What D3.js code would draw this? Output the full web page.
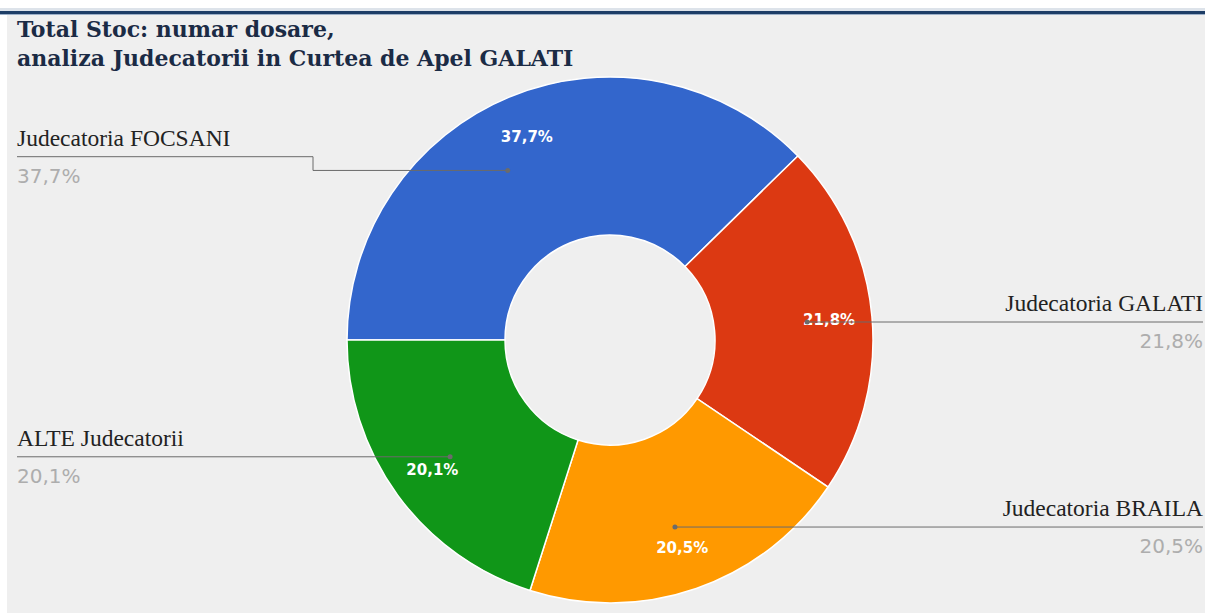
<!DOCTYPE html>
<html>
<head>
<meta charset="utf-8">
<script src="https://cdn.jsdelivr.net/npm/d3@7"></script>
<style>
  body { margin: 0; background: #fff; }
  svg { display: block; }
</style>
</head>
<body>
<div id="theChart"></div>
<script>
const categories = ["Judecatoria FOCSANI", "Judecatoria GALATI", "Judecatoria BRAILA", "ALTE Judecatorii"];
const shares = [37.7, 21.8, 20.5, 20.1];
const colors = ["#3366cc", "#dc3912", "#ff9900", "#109618"];
const titleLines = ["Total Stoc: numar dosare,", "analiza Judecatorii in Curtea de Apel GALATI"];

const width = 1205, height = 614,
    cx = 610, cy = 340,
    outerR = 263, innerR = 105;

const svg = d3.select("#theChart").append("svg").attr("width", width).attr("height", height);

// frame
svg.append("rect").attr("x", 7).attr("y", 15).attr("width", width - 7).attr("height", height - 16).attr("fill", "#efefef");
svg.append("rect").attr("x", 0).attr("y", 8).attr("width", width).attr("height", 3).attr("fill", "#dde3ea");
svg.append("rect").attr("x", 0).attr("y", 11).attr("width", width).attr("height", 3).attr("fill", "#1d3d66");
svg.append("rect").attr("x", 0).attr("y", 14).attr("width", width).attr("height", 1).attr("fill", "#9db0c8");

// title
svg.append("g").selectAll("text").data(titleLines).enter().append("text")
    .attr("x", 17).attr("y", (d, i) => 37 + i * 29)
    .attr("font-family", "'DejaVu Serif', serif").attr("font-weight", "bold")
    .attr("font-size", 22).attr("fill", "#1b2b45")
    .text(d => d);

const data = categories.map((c, i) => ({name: c, value: shares[i], color: colors[i]}));
const pie = d3.pie().value(d => d.value).sort(null).startAngle(-Math.PI / 2).endAngle(1.5 * Math.PI);
const arcs = pie(data);
const arc = d3.arc().innerRadius(innerR).outerRadius(outerR);

const g = svg.append("g").attr("transform", `translate(${cx},${cy})`);
g.selectAll("path").data(arcs).enter().append("path")
    .attr("d", arc).attr("fill", d => d.data.color)
    .attr("stroke", "#fff").attr("stroke-width", 1.5);

// inner percentage labels
const fmt = v => d3.format(".1f")(v).replace(".", ",") + "%";
const labelArc = d3.arc().innerRadius(220).outerRadius(220);
g.selectAll(".inlab").data(arcs).enter().append("text").attr("class", "inlab")
    .attr("transform", d => `translate(${labelArc.centroid(d)})`)
    .attr("text-anchor", "middle").attr("dy", "0.35em")
    .attr("font-family", "'DejaVu Sans', sans-serif").attr("font-weight", "bold")
    .attr("font-size", 15).attr("fill", "#fff")
    .text(d => fmt(d.data.value));

// leader lines: dot radius and side labels
const dotR = 198;
const angleShift = [-0.155, 0, 0, 0];   // FOCSANI dot sits off its mid angle
const midAngle = d => (d.startAngle + d.endAngle) / 2;
const leftSide = d => Math.sin(midAngle(d)) < 0;
const dotPos = (d, i) => {
    const a = midAngle(d) + angleShift[i];
    return [cx + dotR * Math.sin(a), cy - dotR * Math.cos(a)];
};
const lineY = d => cy - dotR * Math.cos(midAngle(d));

const lg = svg.append("g");
arcs.forEach((d, i) => {
    const [px, py] = dotPos(d, i);
    const ly = lineY(d);
    const left = leftSide(d);
    const endX = left ? 17 : 1203;
    let pts;
    if (Math.abs(py - ly) > 1) {
        const jx = left ? 313 : 900;
        pts = [[px, py], [jx, py], [jx, ly], [endX, ly]];
    } else {
        pts = [[px, py], [endX, py]];
    }
    lg.append("path").attr("d", d3.line()(pts)).attr("fill", "none")
        .attr("stroke", "#6b6b6b").attr("stroke-width", 1);
    lg.append("circle").attr("cx", px).attr("cy", py).attr("r", 2.5).attr("fill", "#6b6b6b");
    lg.append("text").attr("x", endX).attr("y", ly - 11)
        .attr("text-anchor", left ? "start" : "end")
        .attr("font-family", "'Liberation Serif', 'Times New Roman', serif")
        .attr("font-size", 23.5).attr("fill", "#222")
        .text(d.data.name);
    lg.append("text").attr("x", endX).attr("y", ly + 26)
        .attr("text-anchor", left ? "start" : "end")
        .attr("font-family", "'DejaVu Sans', sans-serif")
        .attr("font-size", 20).attr("fill", "#adadad")
        .text(fmt(d.data.value));
});
</script>
</body>
</html>
